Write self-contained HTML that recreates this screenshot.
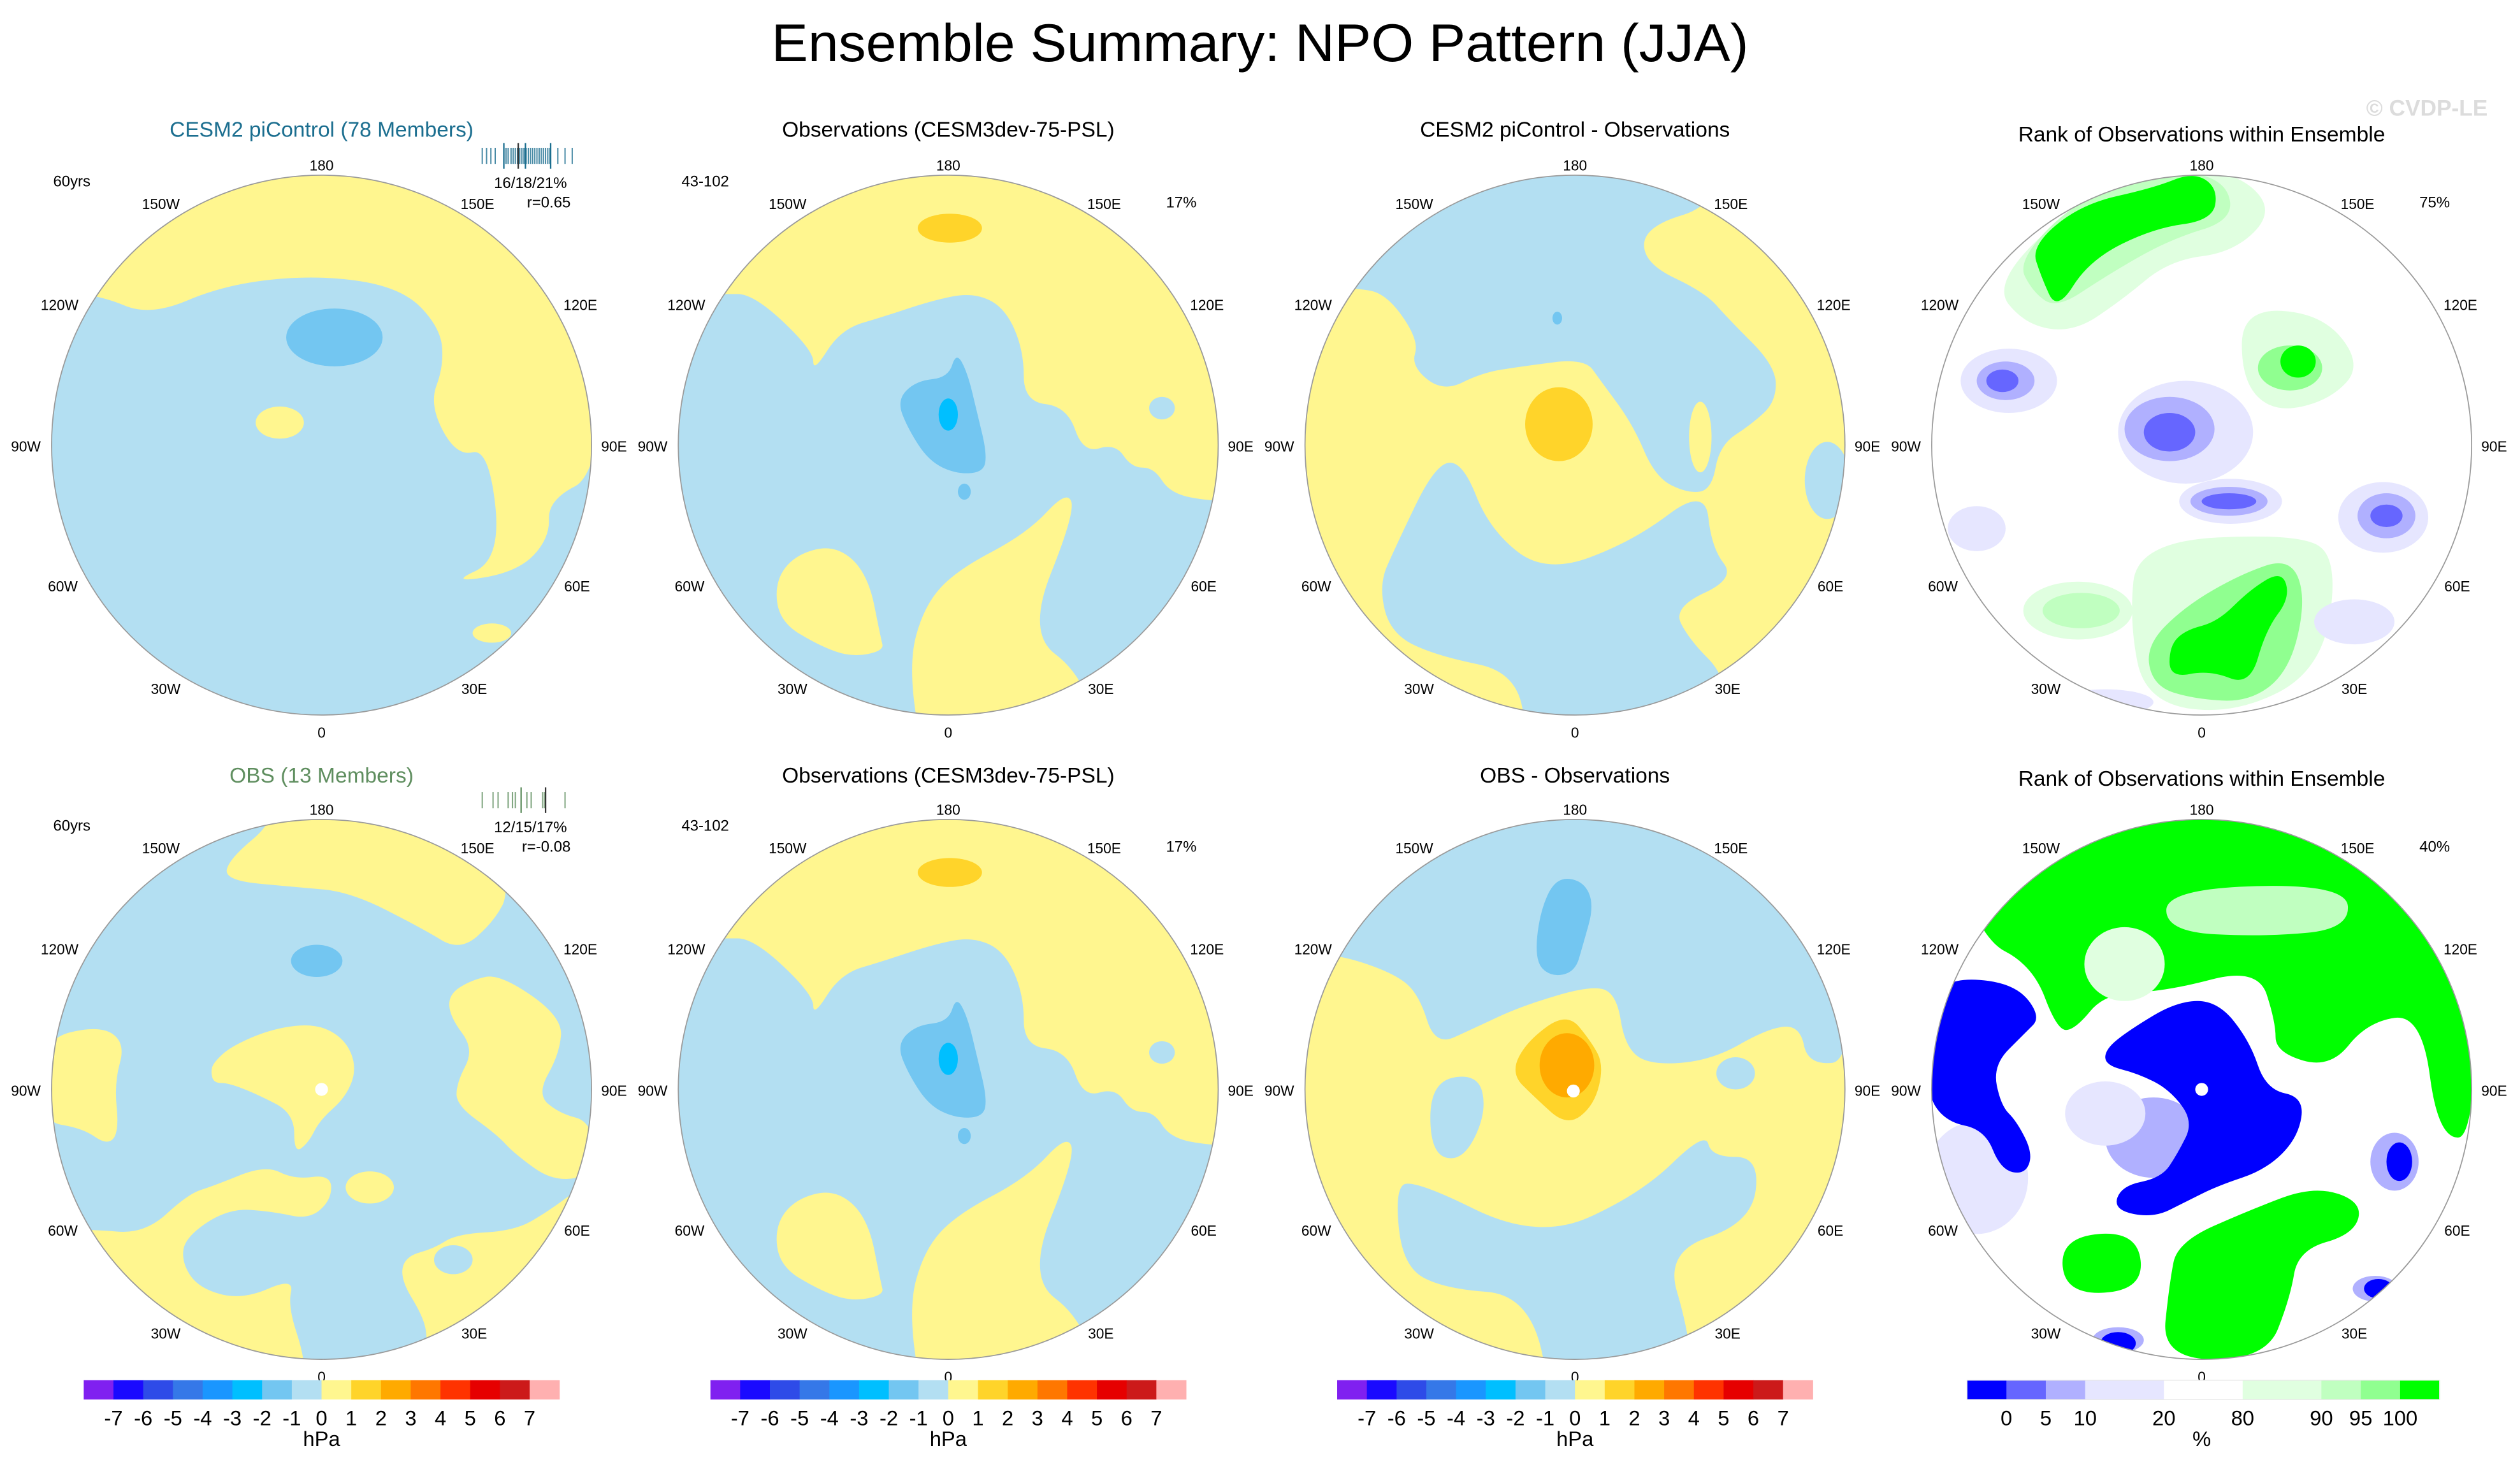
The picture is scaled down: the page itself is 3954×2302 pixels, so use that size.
<!DOCTYPE html>
<html><head><meta charset="utf-8"><style>
html,body{margin:0;padding:0;background:#fff;}
svg{display:block;font-family:"Liberation Sans",sans-serif;}
</style></head><body>
<svg id="fig" xmlns="http://www.w3.org/2000/svg" width="3954" height="2302" viewBox="0 0 1568 913">
<rect width="1568" height="913" fill="#fff"/>
<text x="784" y="38" font-size="33" text-anchor="middle" textLength="608" lengthAdjust="spacingAndGlyphs">Ensemble Summary: NPO Pattern (JJA)</text>
<text x="1548" y="72" font-size="14" font-weight="bold" fill="#dcdcdc" text-anchor="end">© CVDP-LE</text>
</svg>
<script>
const NS='http://www.w3.org/2000/svg';
const svg=document.getElementById('fig');
// colorbar data
const hpaLevels=['-7','-6','-5','-4','-3','-2','-1','0','1','2','3','4','5','6','7'];
const hpaColors=['#8020f0','#1a0aff','#2e4be8','#3578e8','#1a96ff','#00bfff','#73c6f1','#b3dff2','#fff68f','#ffd42a','#ffaa00','#ff7700','#ff3300','#e60000','#cc1a1a','#ffb0b0'];
const rankLevels=['0','5','10','20','80','90','95','100'];
const rankColors=['#0000ff','#6666ff','#b0b0ff','#e6e6ff','#ffffff','#e0ffe0','#c0ffc0','#90ff90','#00ff00'];
const rankWidths=[1,1,1,2,2,2,1,1,1];
// ensemble strip values (percent explained by members)
const stripRow1=[12,12.6,13.2,13.8,15,15.3,15.6,16,16.3,16.6,16.9,17.2,17.5,17.8,18.1,18.4,18.7,19,19.3,19.6,19.9,20.2,20.5,20.8,21.1,21.4,22.5,23.5,24.5];
const stripRow1Major=[15,17,18,21.5];
const stripRow2=[12,13.5,14.2,15.6,16.2,16.6,18.2,18.8,20.4,20.7,23.5];
const stripRow2Major=[17.4,20.8];

const Y='#fff68f',B='#b3dff2',MB='#73c6f1',CY='#00bfff',OR='#ffd42a',DO='#ffaa00';
const G='#00ff00',G2='#90ff90',G3='#c0ffc0',G4='#e0ffe0',V1='#0000ff',V2='#6666ff',V3='#b0b0ff',V4='#e6e6ff';

function mk(tag,attrs,parent){const e=document.createElementNS(NS,tag);for(const k in attrs)e.setAttribute(k,attrs[k]);(parent||svg).appendChild(e);return e;}
function smooth(pts){let n=pts.length,d='';const mid=(a,b)=>[(a[0]+b[0])/2,(a[1]+b[1])/2];let m0=mid(pts[n-1],pts[0]);d='M'+m0[0]+','+m0[1];for(let i=0;i<n;i++){const p=pts[i],m=mid(p,pts[(i+1)%n]);d+=' Q'+p[0]+','+p[1]+' '+m[0]+','+m[1];}return d+'Z';}

const cxs=[200,590,980,1370],cys=[277,678],R=168;
const panels=[
{r:0,c:0,bg:B,title:'CESM2 piControl (78 Members)',tcol:'#1b6e8f',left:'60yrs',shapes:[
 ['p',Y,[[-200,-100],[-139,-94],[-107,-80],[-60,-100],[-2,-106],[50,-98],[74,-73],[76,-49],[67,-25],[84,7],[104,2],[112,71],[79,86],[122,79],[142,58],[141,34],[175,17],[200,-200],[-200,-200]]],
 ['e',MB,8,-67,30,18],['e',Y,-26,-14,15,10],['e',Y,106,117,12,6]]},
{r:0,c:1,bg:Y,title:'Observations (CESM3dev-75-PSL)',left:'43-102',right:'17%',shapes:[
 ['p',B,[[-200,-94],[-141,-94],[-121,-94],[-84,-59],[-84,-45],[-67,-72],[-40,-80],[-10,-90],[15,-95],[35,-86],[47,-59],[47,-27],[74,-24],[84,5],[104,-1],[114,14],[128,14],[138,30],[163,35],[200,35],[200,200],[100,200],[84,143],[49,117],[79,42],[74,28],[49,55],[5,78],[-15,100],[-25,137],[-15,200],[-200,200]]],
 ['p',Y,[[-95,68],[-70,62],[-50,80],[-42,120],[-40,128],[-60,132],[-80,125],[-105,110],[-108,85]]],
 ['p',MB,[[5,-58],[12,-45],[18,-20],[24,5],[22,17],[5,18],[-12,10],[-25,-10],[-32,-28],[-20,-40],[0,-42]]],
 ['e',CY,0,-19,6,10],['e',MB,10,29,4,5],['e',OR,1,-135,20,9],['e',B,133,-23,8,7]]},
{r:0,c:2,bg:Y,title:'CESM2 piControl - Observations',shapes:[
 ['p',B,[[-175,-98],[-137,-98],[-117,-94],[-97,-65],[-102,-49],[-82,-33],[-58,-45],[-33,-49],[6,-54],[16,-40],[36,-13],[50,20],[70,30],[85,28],[90,0],[110,-13],[125,-27],[125,-49],[95,-79],[81,-95],[43,-113],[43,-136],[90,-150],[90,-200],[-175,-200]]],
 ['e',Y,78,-5,7,22],
 ['p',B,[[-112,64],[-87,12],[-70,10],[-53,53],[-18,80],[36,60],[81,26],[85,64],[100,83],[61,101],[71,121],[95,145],[100,200],[-31,200],[-33,142],[-87,131],[-115,117],[-122,87]]],
 ['e',B,157,22,14,24],['e',OR,-10,-13,21,23],['e',MB,-11,-79,3,4]]},
{r:0,c:3,bg:'#fff',title:'Rank of Observations within Ensemble',right:'75%',rank:1,shapes:[
 ['p',G4,[[-130,-100],[-80,-150],[-20,-175],[25,-168],[45,-145],[20,-120],[-20,-115],[-50,-90],[-80,-70],[-110,-75]]],
 ['p',G3,[[-115,-115],[-75,-155],[-20,-172],[15,-165],[20,-140],[-20,-128],[-60,-105],[-90,-85],[-105,-95]]],
 ['p',G,[[-106,-124],[-75,-150],[-30,-160],[-5,-170],[10,-160],[7,-140],[-30,-135],[-70,-115],[-90,-83],[-100,-105]]],
 ['p',G4,[[25,-85],[75,-82],[100,-50],[80,-28],[45,-20],[25,-40]]],
 ['e',G2,55,-48,20,14],['e',G,60,-52,11,10],
 ['p',G4,[[-40,60],[60,55],[85,70],[75,140],[20,168],[-35,160],[-45,110]]],
 ['p',G2,[[-35,125],[-10,100],[25,80],[55,70],[65,95],[55,140],[30,160],[-5,158],[-30,150]]],
 ['p',G,[[-20,125],[-10,115],[10,110],[30,90],[50,78],[55,95],[40,115],[30,150],[5,140],[-20,145]]],
 ['e',G4,-77,103,34,18],['e',G3,-75,103,24,11],
 ['e',V4,-120,-40,30,20],['e',V3,-122,-40,18,12],['e',V2,-124,-40,10,7],
 ['e',V4,-10,-8,42,32],['e',V3,-20,-10,28,20],['e',V2,-20,-8,16,12],
 ['e',V4,18,35,32,14],['e',V3,17,35,24,9],['e',V2,17,35,17,5],
 ['e',V4,113,45,28,22],['e',V3,115,44,18,14],['e',V2,115,44,10,7],
 ['e',V4,-140,52,18,14],['e',V4,95,110,25,14],['e',V4,-60,160,30,8]]},
{r:1,c:0,bg:B,title:'OBS (13 Members)',tcol:'#5f8e5f',left:'60yrs',shapes:[
 ['p',Y,[[-30,-200],[-28,-168],[-58,-143],[-60,-130],[-17,-126],[18,-123],[63,-100],[86,-86],[107,-104],[118,-125],[100,-200]]],
 ['p',Y,[[79,-59],[93,-68],[111,-72],[150,-45],[148,-22],[134,3],[148,15],[168,20],[172,52],[145,58],[120,40],[109,28],[84,10],[84,-4],[95,-25],[80,-45]]],
 ['p',Y,[[52,104],[70,99],[84,90],[120,88],[141,76],[165,58],[200,60],[200,200],[66,200],[66,155],[63,141],[49,118]]],
 ['e',B,82,106,12,9],
 ['p',Y,[[-175,-31],[-138,-40],[-122,-29],[-129,-4],[-126,26],[-133,35],[-149,24],[-175,20]]],
 ['p',Y,[[-69,-11],[-67,-17],[-56,-27],[-30,-38],[-3,-41],[15,-31],[22,-13],[15,5],[-1,19],[-8,33],[-17,40],[-17,15],[-40,3],[-58,-4],[-67,-4]]],
 ['e','#fff',0,0,4,4],
 ['p',Y,[[-200,87],[-144,87],[-110,90],[-83,65],[-67,60],[-35,47],[-17,56],[6,53],[6,69],[-8,81],[-30,76],[-58,74],[-85,92],[-87,108],[-76,124],[-49,131],[-17,117],[-21,135],[-10,168],[-10,200],[-200,200]]],
 ['e',Y,30,61,15,10],['e',MB,-3,-80,16,10]]},
{r:1,c:1,bg:Y,title:'Observations (CESM3dev-75-PSL)',left:'43-102',right:'17%',copy:1},
{r:1,c:2,bg:Y,title:'OBS - Observations',shapes:[
 ['p',B,[[-175,-84],[-147,-84],[-112,-72],[-97,-59],[-87,-27],[-63,-38],[-33,-52],[11,-65],[26,-59],[31,-27],[46,-15],[85,-18],[120,-38],[140,-40],[145,-15],[175,-18],[175,-200],[-175,-200]]],
 ['p',B,[[-112,64],[-102,55],[-23,94],[41,65],[81,26],[85,42],[115,42],[110,83],[56,101],[71,151],[75,200],[-13,200],[-28,128],[-82,124],[-107,110]]],
 ['p',B,[[-90,-5],[-60,-10],[-55,15],[-70,45],[-90,40]]],
 ['e',Y,128,-5,10,22],['e',B,100,-10,12,10],
 ['p',MB,[[-12,-132],[5,-130],[12,-115],[5,-90],[0,-73],[-15,-70],[-25,-80],[-22,-110]]],
 ['p',OR,[[-5,-48],[10,-30],[18,-15],[12,10],[-5,23],[-25,5],[-40,-10],[-30,-30]]],
 ['e',DO,-5,-15,17,20],['e','#fff',-1,1,4,4]]},
{r:1,c:3,bg:'#fff',title:'Rank of Observations within Ensemble',right:'40%',rank:1,shapes:[
 ['p',G,[[-140,-95],[-105,-77],[-90,-37],[-79,-37],[-60,-60],[-22,-61],[35,-76],[46,-42],[46,-23],[80,-13],[103,-42],[137,-47],[147,30],[172,30],[172,-200],[-172,-200]]],
 ['p',G3,[[-22,-125],[90,-128],[92,-100],[40,-95],[-22,-98]]],
 ['e',G4,-48,-78,25,23],
 ['e',V4,-140,55,32,35],
 ['p',V1,[[-168,-60],[-150,-70],[-115,-65],[-100,-45],[-110,-35],[-130,-15],[-125,10],[-115,20],[-105,40],[-110,53],[-125,50],[-135,25],[-160,20],[-172,0]]],
 ['e',V3,-30,30,30,25],['e',V4,-60,15,25,20],
 ['p',V1,[[-60,-25],[-45,-37],[-15,-55],[10,-55],[30,-30],[40,0],[64,5],[60,30],[40,50],[10,60],[-10,70],[-30,80],[-55,75],[-50,60],[-25,55],[-15,40],[-5,20],[-20,0],[-40,-10],[-60,-15]]],
 ['e','#fff',0,0,4,4],
 ['p',G,[[-88,92],[-40,88],[-36,125],[-85,128]]],
 ['p',G,[[-15,95],[30,75],[70,60],[100,70],[95,90],[60,100],[55,130],[40,168],[-25,168],[-20,120]]],
 ['e',V3,120,45,15,18],['e',V1,123,45,8,12],
 ['e',V3,108,124,14,8],['e',V1,110,124,9,6],
 ['e',V3,-52,156,16,8],['e',V1,-52,158,11,7]]}
];
const obsShapes=panels[1].shapes;
panels[5].shapes=obsShapes;

const lonLabels=[['180',0,-171],['0',0,182],['150W',-100,-147],['150E',97,-147],['120W',-163,-84],['120E',161,-84],['90W',-184,4],['90E',182,4],['60W',-161,91],['60E',159,91],['30W',-97,155],['30E',95,155]];

panels.forEach((P,i)=>{
 const cx=cxs[P.c],cy=cys[P.r];
 const g=mk('g',{transform:`translate(${cx},${cy})`});
 
 
 const cp=mk('clipPath',{id:'clip'+i},g);mk('circle',{cx:0,cy:0,r:R},cp);
 const inner=mk('g',{'clip-path':`url(#clip${i})`},g);
 mk('circle',{cx:0,cy:0,r:R,fill:P.bg},inner);
 P.shapes.forEach(s=>{
  let el;
  if(s[0]==='e') el=mk('ellipse',{cx:s[2],cy:s[3],rx:s[4],ry:s[5],fill:s[1]},inner);
  else el=mk('path',{d:smooth(s[2]),fill:s[1]},inner);
  
  
 });
 const ring=mk('circle',{cx:0,cy:0,r:R,fill:'none',stroke:'#9a9a9a','stroke-width':0.7},g);
 
 
 lonLabels.forEach(L=>{
  const t=mk('text',{x:L[1],y:L[2],'font-size':9,'text-anchor':'middle'},g);t.textContent=L[0];
  
  
 });
 const ty=P.r===0?(P.c===3?-189:-192):(P.c===3?-189:-191);
 const tt=mk('text',{x:0,y:ty,'font-size':13.3,'text-anchor':'middle',fill:P.tcol||'#000'},g);tt.textContent=P.title;
 
 
 if(P.left){const t=mk('text',{x:P.c===0?-167:-166,y:-161,'font-size':9.5},g);t.textContent=P.left;
  
  }
 if(P.right){const t=mk('text',{x:145,y:-148,'font-size':9.5,'text-anchor':'middle'},g);t.textContent=P.right;
  
  }
});

// ensemble strips + stats (col 1)
function strip(r,vals,major,col,stats,rv){
 const cy=cys[r];const x0=300,x1=356,v0=12,v1=24.5;
 const sx=v=>x0+(v-v0)/(v1-v0)*(x1-x0);
 const yb=cy-180;
 vals.forEach(v=>{const l=mk('line',{x1:sx(v),x2:sx(v),y1:yb-5,y2:yb+5,stroke:col,'stroke-width':0.8,opacity:0.8});
  
  });
 major.forEach((v,k)=>{const l=mk('line',{x1:sx(v),x2:sx(v),y1:yb-8,y2:yb+8,stroke:k===1?'#333':col,'stroke-width':0.9});
  
  });
 const t1=mk('text',{x:330,y:cy-160,'font-size':9.5,'text-anchor':'middle'});t1.textContent=stats;
 
 
 const t2=mk('text',{x:355,y:cy-148,'font-size':9.5,'text-anchor':'end'});t2.textContent=rv;
 
 
}
strip(0,stripRow1,stripRow1Major,'#1b6e8f','16/18/21%','r=0.65');
strip(1,stripRow2,stripRow2Major,'#5f8e5f','12/15/17%','r=-0.08');

// colorbars
[0,1,2].forEach(c=>{
 const x0=cxs[c]-148,w=296/hpaColors.length,y0=859,h=12;
 const g=mk('g',{});
 
 
 hpaColors.forEach((col,k)=>{const r=mk('rect',{x:x0+k*w,y:y0,width:w+0.2,height:h,fill:col},g);
  
  });
 hpaLevels.forEach((lv,k)=>{const t=mk('text',{x:x0+(k+1)*w,y:887,'font-size':13,'text-anchor':'middle'},g);t.textContent=lv;
  
  });
 const u=mk('text',{x:cxs[c],y:900,'font-size':13,'text-anchor':'middle'},g);u.textContent='hPa';
 
 
});
{
 const tot=rankWidths.reduce((a,b)=>a+b,0),x0=1224,W=294,unit=W/tot;
 const g=mk('g',{});
 
 
 let acc=0;const bounds=[];
 rankColors.forEach((col,k)=>{const r=mk('rect',{x:x0+acc*unit,y:859,width:rankWidths[k]*unit+0.2,height:12,fill:col},g);
  
  
  acc+=rankWidths[k];bounds.push(acc);});
 mk('rect',{x:x0,y:859,width:W,height:12,fill:'none',stroke:'#e6e6e6','stroke-width':0.5},g);
 rankLevels.forEach((lv,k)=>{const t=mk('text',{x:x0+bounds[k]*unit,y:887,'font-size':13,'text-anchor':'middle'},g);t.textContent=lv;
  
  });
 const u=mk('text',{x:1370,y:900,'font-size':13,'text-anchor':'middle'},g);u.textContent='%';
 
 
}
</script>
</body></html>
